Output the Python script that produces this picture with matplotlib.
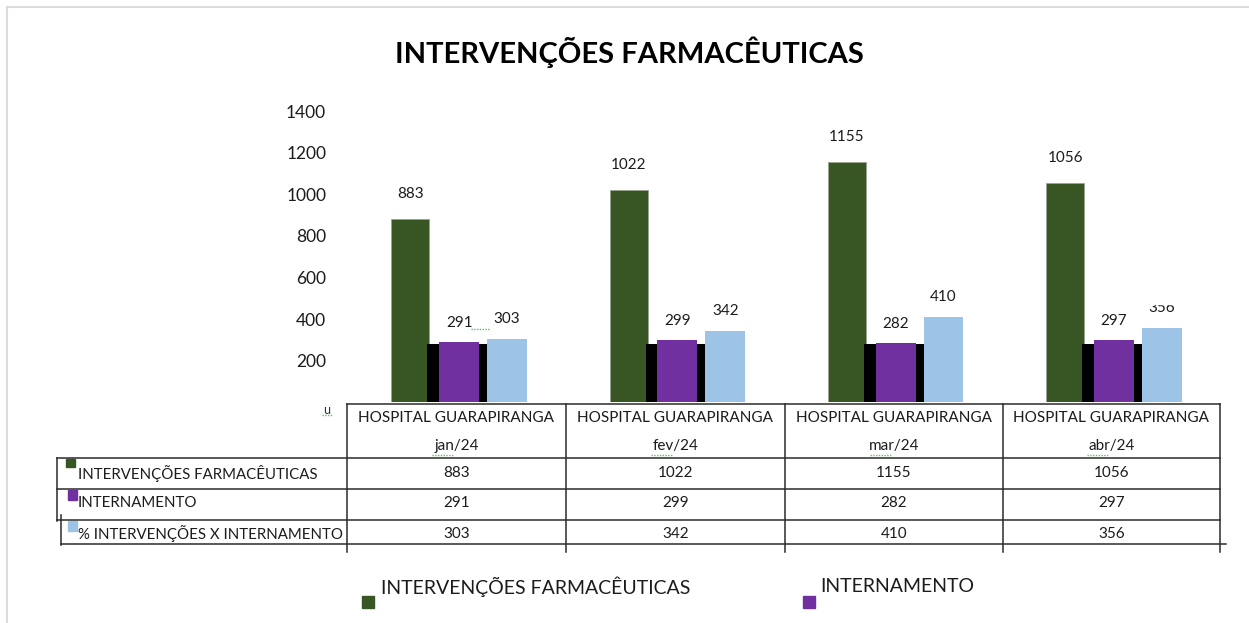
import numpy as np
import matplotlib
matplotlib.use("Agg")
import matplotlib.pyplot as plt
from matplotlib.patches import Rectangle

plt.rcParams["font.family"] = ["Lato", "DejaVu Sans"]

# ---- dados ----
unidade = "HOSPITAL GUARAPIRANGA"
meses = ["jan/24", "fev/24", "mar/24", "abr/24"]
series = ["INTERVENÇÕES FARMACÊUTICAS", "INTERNAMENTO", "% INTERVENÇÕES X INTERNAMENTO"]
intervencoes = [883, 1022, 1155, 1056]
internamento = [291, 299, 282, 297]
perc_interv = [303, 342, 410, 356]
faixa_preta = [280, 280, 280, 280]   # bloco preto atrás do internamento
yticks = [200, 400, 600, 800, 1000, 1200, 1400]

VERDE, ROXO, AZUL = "#375623", "#7030A0", "#9DC3E6"
TXT = "#1c1c1c"
SQUIG = "#5fbf5f"
W, H = 1249, 623

fig = plt.figure(figsize=(W / 100, H / 100), dpi=100)

# fundo em coordenadas de pixel (tabela, legenda, título)
bg = fig.add_axes([0, 0, 1, 1])
bg.set_xlim(0, W); bg.set_ylim(H, 0); bg.axis("off")

# moldura cinza clara
bg.plot([7, W], [7, 7], color="#dcdcdc", lw=1.5)
bg.plot([7, 7], [7, H], color="#dcdcdc", lw=1.5)

bg.text(629, 52, "INTERVENÇÕES FARMACÊUTICAS", ha="center", va="center",
        fontsize=21, fontweight="bold", color="black")

# ---- gráfico de barras ----
x0, x1, y0, ytop = 347, 1220, 402, 100
ax = fig.add_axes([x0 / W, (H - y0) / H, (x1 - x0) / W, (y0 - ytop) / H])
ax.patch.set_alpha(0)
ax.set_xlim(-0.5, len(meses) - 0.5)
ax.set_ylim(0, (y0 - ytop) / 41.5 * 200)
for s in ax.spines.values():
    s.set_visible(False)
ax.set_xticks([])
ax.set_yticks(yticks)
ax.set_yticklabels([str(t) for t in yticks], fontsize=12.5, color=TXT)
ax.tick_params(axis="y", length=0, pad=15)

x = np.arange(len(meses))
ax.bar(x - 0.21, intervencoes, width=0.174, color=VERDE, edgecolor="#9aa590", lw=0.6)
ax.bar(x + 0.005, faixa_preta, width=0.274, color="black")
ax.bar(x + 0.014, internamento, width=0.183, color=ROXO)
ax.bar(x + 0.233, perc_interv, width=0.183, color=AZUL)

for i in range(len(meses)):
    ax.annotate(str(intervencoes[i]), (x[i] - 0.21, intervencoes[i]), xytext=(0, 25),
                textcoords="offset pixels", ha="center", va="center", fontsize=11, color=TXT)
    ax.annotate(str(internamento[i]), (x[i] + 0.014, internamento[i]), xytext=(0, 19),
                textcoords="offset pixels", ha="center", va="center", fontsize=11, color=TXT)
    ax.annotate(str(perc_interv[i]), (x[i] + 0.233, perc_interv[i]), xytext=(0, 20),
                textcoords="offset pixels", ha="center", va="center", fontsize=11, color=TXT)

# rótulo "356" cortado no topo (retângulo branco por cima de tudo)
fig.add_artist(Rectangle((1140, 284), 45, 20, color="white", zorder=10,
                         transform=bg.transData))
bg.text(327, 410, "u", ha="center", va="center", fontsize=9, color="#333333")
bg.plot([322, 333], [415, 415], color=SQUIG, lw=1, ls=(0, (1, 1)))
bg.plot([471, 490], [329, 329], color=SQUIG, lw=1, ls=(0, (1, 1)))

# ---- tabela de dados ----
LC, LW = "#2b2b2b", 1.1
cols = [347, 566, 785, 1003, 1220]
bg.plot([cols[0], cols[-1]], [404, 404], color=LC, lw=LW)
for cx in cols:
    bg.plot([cx, cx], [404, 552], color=LC, lw=LW)
for ry in [458, 489, 520]:
    bg.plot([57, cols[-1]], [ry, ry], color=LC, lw=LW)
bg.plot([61, 1226], [544, 544], color=LC, lw=LW)
bg.plot([57, 57], [458, 521], color=LC, lw=LW)
bg.plot([61, 61], [515, 545], color=LC, lw=LW)

for i, m in enumerate(meses):
    cx = (cols[i] + cols[i + 1]) / 2
    bg.text(cx, 418, unidade, ha="center", va="center", fontsize=11, color=TXT)
    bg.text(cx, 446, m, ha="center", va="center", fontsize=11, color=TXT)
    bg.plot([cx - 24, cx - 3], [455, 455], color=SQUIG, lw=1, ls=(0, (1, 1)))
    for ry, vals in zip([473, 503, 534], [intervencoes, internamento, perc_interv]):
        bg.text(cx, ry, str(vals[i]), ha="center", va="center", fontsize=11, color=TXT)

for (sx, sy), cor, ry, nome in zip([(66, 459), (68, 490), (68, 521)], [VERDE, ROXO, AZUL],
                                   [473, 503, 534], series):
    bg.add_patch(Rectangle((sx, sy), 9, 8 if cor == VERDE else 10, color=cor))
    bg.text(78, ry, nome, ha="left", va="center", fontsize=10.8, color=TXT)

# ---- legenda inferior ----
for (sx, tx), cor, nome in zip([(362, 381), (803, 820)], [VERDE, ROXO], series[:2]):
    bg.add_patch(Rectangle((sx, 596), 12, 12, color=cor))
    bg.text(tx, 587, nome, ha="left", va="center", fontsize=14, color=TXT)

fig.savefig("out.png", dpi=100)
